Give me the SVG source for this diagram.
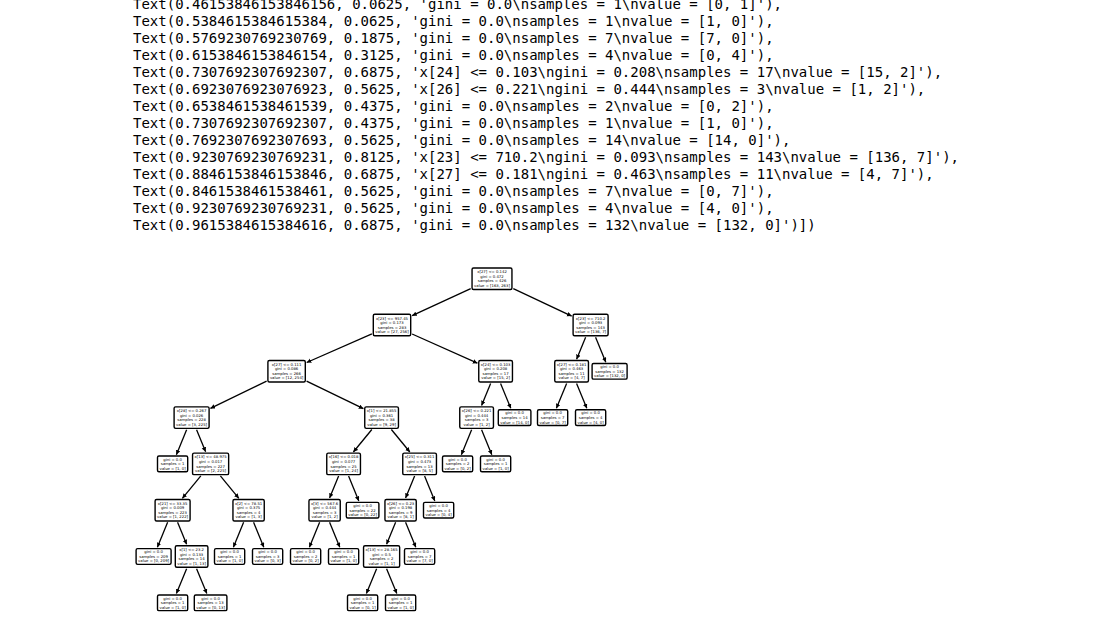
<svg xmlns="http://www.w3.org/2000/svg" width="1119" height="630" viewBox="0 0 1119 630">
<style>
.out{font-family:"DejaVu Sans Mono","Liberation Mono",monospace;font-size:14px;fill:#000}
.n rect{fill:#fff;stroke:#000;stroke-width:1.4}
.n text{font-family:"DejaVu Sans","Liberation Sans",sans-serif;font-size:3.8px;text-anchor:middle;fill:#000}
#edges line{stroke:#000;stroke-width:1.3;marker-end:url(#ah)}
</style>
<defs>
<marker id="ah" markerUnits="userSpaceOnUse" markerWidth="6" markerHeight="6" refX="4.6" refY="2.3" orient="auto"><path d="M0,0 L4.6,2.3 L0,4.6 z" fill="#000"/></marker>
</defs>
<rect width="1119" height="630" fill="#fff"/>
<g id="output">
<text class="out" x="133" y="9">Text(0.46153846153846156, 0.0625, 'gini = 0.0\nsamples = 1\nvalue = [0, 1]'),</text>
<text class="out" x="133" y="26">Text(0.5384615384615384, 0.0625, 'gini = 0.0\nsamples = 1\nvalue = [1, 0]'),</text>
<text class="out" x="133" y="43">Text(0.5769230769230769, 0.1875, 'gini = 0.0\nsamples = 7\nvalue = [7, 0]'),</text>
<text class="out" x="133" y="60">Text(0.6153846153846154, 0.3125, 'gini = 0.0\nsamples = 4\nvalue = [0, 4]'),</text>
<text class="out" x="133" y="77">Text(0.7307692307692307, 0.6875, 'x[24] &lt;= 0.103\ngini = 0.208\nsamples = 17\nvalue = [15, 2]'),</text>
<text class="out" x="133" y="94">Text(0.6923076923076923, 0.5625, 'x[26] &lt;= 0.221\ngini = 0.444\nsamples = 3\nvalue = [1, 2]'),</text>
<text class="out" x="133" y="111">Text(0.6538461538461539, 0.4375, 'gini = 0.0\nsamples = 2\nvalue = [0, 2]'),</text>
<text class="out" x="133" y="128">Text(0.7307692307692307, 0.4375, 'gini = 0.0\nsamples = 1\nvalue = [1, 0]'),</text>
<text class="out" x="133" y="145">Text(0.7692307692307693, 0.5625, 'gini = 0.0\nsamples = 14\nvalue = [14, 0]'),</text>
<text class="out" x="133" y="162">Text(0.9230769230769231, 0.8125, 'x[23] &lt;= 710.2\ngini = 0.093\nsamples = 143\nvalue = [136, 7]'),</text>
<text class="out" x="133" y="179">Text(0.8846153846153846, 0.6875, 'x[27] &lt;= 0.181\ngini = 0.463\nsamples = 11\nvalue = [4, 7]'),</text>
<text class="out" x="133" y="196">Text(0.8461538461538461, 0.5625, 'gini = 0.0\nsamples = 7\nvalue = [0, 7]'),</text>
<text class="out" x="133" y="213">Text(0.9230769230769231, 0.5625, 'gini = 0.0\nsamples = 4\nvalue = [4, 0]'),</text>
<text class="out" x="133" y="230">Text(0.9615384615384616, 0.6875, 'gini = 0.0\nsamples = 132\nvalue = [132, 0]')])</text>
</g>
<g id="edges">
<line x1="470.7" y1="288.6" x2="412.1" y2="315.7"/>
<line x1="513.3" y1="288.7" x2="571.7" y2="316.1"/>
<line x1="371.9" y1="333.8" x2="306.7" y2="362.5"/>
<line x1="412.1" y1="334.0" x2="477.4" y2="363.2"/>
<line x1="266.6" y1="381.1" x2="210.4" y2="408.4"/>
<line x1="306.6" y1="381.1" x2="363.4" y2="408.7"/>
<line x1="186.62" y1="429.74" x2="176.39" y2="454.66"/>
<line x1="196.58" y1="429.74" x2="205.62" y2="451.76"/>
<line x1="200.83" y1="475.81" x2="182.37" y2="498.29"/>
<line x1="220.37" y1="475.81" x2="238.83" y2="498.29"/>
<line x1="167.62" y1="522.34" x2="157.39" y2="547.26"/>
<line x1="177.58" y1="522.34" x2="186.62" y2="544.36"/>
<line x1="186.62" y1="568.64" x2="176.39" y2="593.56"/>
<line x1="196.58" y1="568.64" x2="206.81" y2="593.56"/>
<line x1="243.62" y1="522.34" x2="233.39" y2="547.26"/>
<line x1="253.58" y1="522.34" x2="263.81" y2="547.26"/>
<line x1="371.83" y1="429.51" x2="353.37" y2="451.99"/>
<line x1="391.37" y1="429.51" x2="409.83" y2="451.99"/>
<line x1="338.62" y1="476.04" x2="329.58" y2="498.06"/>
<line x1="348.58" y1="476.04" x2="358.81" y2="500.96"/>
<line x1="319.62" y1="522.34" x2="309.39" y2="547.26"/>
<line x1="329.58" y1="522.34" x2="339.81" y2="547.26"/>
<line x1="414.62" y1="476.04" x2="405.58" y2="498.06"/>
<line x1="424.58" y1="476.04" x2="434.81" y2="500.96"/>
<line x1="395.62" y1="522.34" x2="386.58" y2="544.36"/>
<line x1="405.58" y1="522.34" x2="415.81" y2="547.26"/>
<line x1="376.62" y1="568.64" x2="366.39" y2="593.56"/>
<line x1="386.58" y1="568.64" x2="396.81" y2="593.56"/>
<line x1="490.62" y1="383.44" x2="481.58" y2="405.46"/>
<line x1="500.58" y1="383.44" x2="510.81" y2="408.36"/>
<line x1="471.62" y1="429.74" x2="461.39" y2="454.66"/>
<line x1="481.58" y1="429.74" x2="491.81" y2="454.66"/>
<line x1="585.62" y1="337.14" x2="576.58" y2="359.16"/>
<line x1="595.58" y1="337.14" x2="605.81" y2="362.16"/>
<line x1="566.62" y1="383.44" x2="556.39" y2="408.36"/>
<line x1="576.58" y1="383.44" x2="586.81" y2="408.36"/>
</g>
<g id="n0" class="n"><rect x="472.05" y="267.95" width="39.9" height="21.5" rx="1.5"/><text y="273.21"><tspan x="492">x[27] &lt;= 0.142</tspan><tspan x="492" dy="4.56">gini = 0.472</tspan><tspan x="492" dy="4.56">samples = 426</tspan><tspan x="492" dy="4.56">value = [163, 263]</tspan></text></g>
<g id="n1" class="n"><rect x="373.3" y="314.25" width="37.4" height="21.5" rx="1.5"/><text y="319.51"><tspan x="392">x[23] &lt;= 957.45</tspan><tspan x="392" dy="4.56">gini = 0.173</tspan><tspan x="392" dy="4.56">samples = 283</tspan><tspan x="392" dy="4.56">value = [27, 256]</tspan></text></g>
<g id="n2" class="n"><rect x="267.9" y="360.55" width="37.4" height="21.5" rx="1.5"/><text y="365.81"><tspan x="286.6">x[27] &lt;= 0.111</tspan><tspan x="286.6" dy="4.56">gini = 0.086</tspan><tspan x="286.6" dy="4.56">samples = 266</tspan><tspan x="286.6" dy="4.56">value = [12, 254]</tspan></text></g>
<g id="n3" class="n"><rect x="174.1" y="406.85" width="35" height="21.5" rx="1.5"/><text y="412.11"><tspan x="191.6">x[28] &lt;= 0.267</tspan><tspan x="191.6" dy="4.56">gini = 0.026</tspan><tspan x="191.6" dy="4.56">samples = 228</tspan><tspan x="191.6" dy="4.56">value = [3, 225]</tspan></text></g>
<g id="n4" class="n"><rect x="157.5" y="456.05" width="30.2" height="15.7" rx="1.5"/><text y="460.69"><tspan x="172.6">gini = 0.0</tspan><tspan x="172.6" dy="4.56">samples = 1</tspan><tspan x="172.6" dy="4.56">value = [1, 0]</tspan></text></g>
<g id="n5" class="n"><rect x="192.55" y="453.15" width="36.1" height="21.5" rx="1.5"/><text y="458.41"><tspan x="210.6">x[13] &lt;= 48.975</tspan><tspan x="210.6" dy="4.56">gini = 0.017</tspan><tspan x="210.6" dy="4.56">samples = 227</tspan><tspan x="210.6" dy="4.56">value = [2, 225]</tspan></text></g>
<g id="n6" class="n"><rect x="155.1" y="499.45" width="35" height="21.5" rx="1.5"/><text y="504.71"><tspan x="172.6">x[21] &lt;= 33.35</tspan><tspan x="172.6" dy="4.56">gini = 0.009</tspan><tspan x="172.6" dy="4.56">samples = 223</tspan><tspan x="172.6" dy="4.56">value = [1, 222]</tspan></text></g>
<g id="n7" class="n"><rect x="136.1" y="548.65" width="35" height="15.7" rx="1.5"/><text y="553.29"><tspan x="153.6">gini = 0.0</tspan><tspan x="153.6" dy="4.56">samples = 209</tspan><tspan x="153.6" dy="4.56">value = [0, 209]</tspan></text></g>
<g id="n8" class="n"><rect x="175.3" y="545.75" width="32.6" height="21.5" rx="1.5"/><text y="551.01"><tspan x="191.6">x[1] &lt;= 23.2</tspan><tspan x="191.6" dy="4.56">gini = 0.133</tspan><tspan x="191.6" dy="4.56">samples = 14</tspan><tspan x="191.6" dy="4.56">value = [1, 13]</tspan></text></g>
<g id="n9" class="n"><rect x="157.5" y="594.95" width="30.2" height="15.7" rx="1.5"/><text y="599.59"><tspan x="172.6">gini = 0.0</tspan><tspan x="172.6" dy="4.56">samples = 1</tspan><tspan x="172.6" dy="4.56">value = [1, 0]</tspan></text></g>
<g id="n10" class="n"><rect x="194.3" y="594.95" width="32.6" height="15.7" rx="1.5"/><text y="599.59"><tspan x="210.6">gini = 0.0</tspan><tspan x="210.6" dy="4.56">samples = 13</tspan><tspan x="210.6" dy="4.56">value = [0, 13]</tspan></text></g>
<g id="n11" class="n"><rect x="232.95" y="499.45" width="31.3" height="21.5" rx="1.5"/><text y="504.71"><tspan x="248.6">x[2] &lt;= 78.51</tspan><tspan x="248.6" dy="4.56">gini = 0.375</tspan><tspan x="248.6" dy="4.56">samples = 4</tspan><tspan x="248.6" dy="4.56">value = [1, 3]</tspan></text></g>
<g id="n12" class="n"><rect x="214.5" y="548.65" width="30.2" height="15.7" rx="1.5"/><text y="553.29"><tspan x="229.6">gini = 0.0</tspan><tspan x="229.6" dy="4.56">samples = 1</tspan><tspan x="229.6" dy="4.56">value = [1, 0]</tspan></text></g>
<g id="n13" class="n"><rect x="252.5" y="548.65" width="30.2" height="15.7" rx="1.5"/><text y="553.29"><tspan x="267.6">gini = 0.0</tspan><tspan x="267.6" dy="4.56">samples = 3</tspan><tspan x="267.6" dy="4.56">value = [0, 3]</tspan></text></g>
<g id="n14" class="n"><rect x="364.75" y="406.85" width="33.7" height="21.5" rx="1.5"/><text y="412.11"><tspan x="381.6">x[1] &lt;= 21.855</tspan><tspan x="381.6" dy="4.56">gini = 0.361</tspan><tspan x="381.6" dy="4.56">samples = 38</tspan><tspan x="381.6" dy="4.56">value = [9, 29]</tspan></text></g>
<g id="n15" class="n"><rect x="326.75" y="453.15" width="33.7" height="21.5" rx="1.5"/><text y="458.41"><tspan x="343.6">x[16] &lt;= 0.018</tspan><tspan x="343.6" dy="4.56">gini = 0.077</tspan><tspan x="343.6" dy="4.56">samples = 25</tspan><tspan x="343.6" dy="4.56">value = [1, 24]</tspan></text></g>
<g id="n16" class="n"><rect x="308.95" y="499.45" width="31.3" height="21.5" rx="1.5"/><text y="504.71"><tspan x="324.6">x[3] &lt;= 567.6</tspan><tspan x="324.6" dy="4.56">gini = 0.444</tspan><tspan x="324.6" dy="4.56">samples = 3</tspan><tspan x="324.6" dy="4.56">value = [1, 2]</tspan></text></g>
<g id="n17" class="n"><rect x="290.5" y="548.65" width="30.2" height="15.7" rx="1.5"/><text y="553.29"><tspan x="305.6">gini = 0.0</tspan><tspan x="305.6" dy="4.56">samples = 2</tspan><tspan x="305.6" dy="4.56">value = [0, 2]</tspan></text></g>
<g id="n18" class="n"><rect x="328.5" y="548.65" width="30.2" height="15.7" rx="1.5"/><text y="553.29"><tspan x="343.6">gini = 0.0</tspan><tspan x="343.6" dy="4.56">samples = 1</tspan><tspan x="343.6" dy="4.56">value = [1, 0]</tspan></text></g>
<g id="n19" class="n"><rect x="346.3" y="502.35" width="32.6" height="15.7" rx="1.5"/><text y="506.99"><tspan x="362.6">gini = 0.0</tspan><tspan x="362.6" dy="4.56">samples = 22</tspan><tspan x="362.6" dy="4.56">value = [0, 22]</tspan></text></g>
<g id="n20" class="n"><rect x="402.75" y="453.15" width="33.7" height="21.5" rx="1.5"/><text y="458.41"><tspan x="419.6">x[25] &lt;= 0.311</tspan><tspan x="419.6" dy="4.56">gini = 0.473</tspan><tspan x="419.6" dy="4.56">samples = 13</tspan><tspan x="419.6" dy="4.56">value = [8, 5]</tspan></text></g>
<g id="n21" class="n"><rect x="384.95" y="499.45" width="31.3" height="21.5" rx="1.5"/><text y="504.71"><tspan x="400.6">x[26] &lt;= 0.23</tspan><tspan x="400.6" dy="4.56">gini = 0.198</tspan><tspan x="400.6" dy="4.56">samples = 9</tspan><tspan x="400.6" dy="4.56">value = [8, 1]</tspan></text></g>
<g id="n22" class="n"><rect x="363.55" y="545.75" width="36.1" height="21.5" rx="1.5"/><text y="551.01"><tspan x="381.6">x[13] &lt;= 28.165</tspan><tspan x="381.6" dy="4.56">gini = 0.5</tspan><tspan x="381.6" dy="4.56">samples = 2</tspan><tspan x="381.6" dy="4.56">value = [1, 1]</tspan></text></g>
<g id="n23" class="n"><rect x="347.5" y="594.95" width="30.2" height="15.7" rx="1.5"/><text y="599.59"><tspan x="362.6">gini = 0.0</tspan><tspan x="362.6" dy="4.56">samples = 1</tspan><tspan x="362.6" dy="4.56">value = [0, 1]</tspan></text></g>
<g id="n24" class="n"><rect x="385.5" y="594.95" width="30.2" height="15.7" rx="1.5"/><text y="599.59"><tspan x="400.6">gini = 0.0</tspan><tspan x="400.6" dy="4.56">samples = 1</tspan><tspan x="400.6" dy="4.56">value = [1, 0]</tspan></text></g>
<g id="n25" class="n"><rect x="404.5" y="548.65" width="30.2" height="15.7" rx="1.5"/><text y="553.29"><tspan x="419.6">gini = 0.0</tspan><tspan x="419.6" dy="4.56">samples = 7</tspan><tspan x="419.6" dy="4.56">value = [7, 0]</tspan></text></g>
<g id="n26" class="n"><rect x="423.5" y="502.35" width="30.2" height="15.7" rx="1.5"/><text y="506.99"><tspan x="438.6">gini = 0.0</tspan><tspan x="438.6" dy="4.56">samples = 4</tspan><tspan x="438.6" dy="4.56">value = [0, 4]</tspan></text></g>
<g id="n27" class="n"><rect x="478.75" y="360.55" width="33.7" height="21.5" rx="1.5"/><text y="365.81"><tspan x="495.6">x[24] &lt;= 0.103</tspan><tspan x="495.6" dy="4.56">gini = 0.208</tspan><tspan x="495.6" dy="4.56">samples = 17</tspan><tspan x="495.6" dy="4.56">value = [15, 2]</tspan></text></g>
<g id="n28" class="n"><rect x="459.75" y="406.85" width="33.7" height="21.5" rx="1.5"/><text y="412.11"><tspan x="476.6">x[26] &lt;= 0.221</tspan><tspan x="476.6" dy="4.56">gini = 0.444</tspan><tspan x="476.6" dy="4.56">samples = 3</tspan><tspan x="476.6" dy="4.56">value = [1, 2]</tspan></text></g>
<g id="n29" class="n"><rect x="442.5" y="456.05" width="30.2" height="15.7" rx="1.5"/><text y="460.69"><tspan x="457.6">gini = 0.0</tspan><tspan x="457.6" dy="4.56">samples = 2</tspan><tspan x="457.6" dy="4.56">value = [0, 2]</tspan></text></g>
<g id="n30" class="n"><rect x="480.5" y="456.05" width="30.2" height="15.7" rx="1.5"/><text y="460.69"><tspan x="495.6">gini = 0.0</tspan><tspan x="495.6" dy="4.56">samples = 1</tspan><tspan x="495.6" dy="4.56">value = [1, 0]</tspan></text></g>
<g id="n31" class="n"><rect x="498.3" y="409.75" width="32.6" height="15.7" rx="1.5"/><text y="414.39"><tspan x="514.6">gini = 0.0</tspan><tspan x="514.6" dy="4.56">samples = 14</tspan><tspan x="514.6" dy="4.56">value = [14, 0]</tspan></text></g>
<g id="n32" class="n"><rect x="573.1" y="314.25" width="35" height="21.5" rx="1.5"/><text y="319.51"><tspan x="590.6">x[23] &lt;= 710.2</tspan><tspan x="590.6" dy="4.56">gini = 0.093</tspan><tspan x="590.6" dy="4.56">samples = 143</tspan><tspan x="590.6" dy="4.56">value = [136, 7]</tspan></text></g>
<g id="n33" class="n"><rect x="554.75" y="360.55" width="33.7" height="21.5" rx="1.5"/><text y="365.81"><tspan x="571.6">x[27] &lt;= 0.181</tspan><tspan x="571.6" dy="4.56">gini = 0.463</tspan><tspan x="571.6" dy="4.56">samples = 11</tspan><tspan x="571.6" dy="4.56">value = [4, 7]</tspan></text></g>
<g id="n34" class="n"><rect x="537.5" y="409.75" width="30.2" height="15.7" rx="1.5"/><text y="414.39"><tspan x="552.6">gini = 0.0</tspan><tspan x="552.6" dy="4.56">samples = 7</tspan><tspan x="552.6" dy="4.56">value = [0, 7]</tspan></text></g>
<g id="n35" class="n"><rect x="575.5" y="409.75" width="30.2" height="15.7" rx="1.5"/><text y="414.39"><tspan x="590.6">gini = 0.0</tspan><tspan x="590.6" dy="4.56">samples = 4</tspan><tspan x="590.6" dy="4.56">value = [4, 0]</tspan></text></g>
<g id="n36" class="n"><rect x="592.1" y="363.45" width="35" height="15.7" rx="1.5"/><text y="368.09"><tspan x="609.6">gini = 0.0</tspan><tspan x="609.6" dy="4.56">samples = 132</tspan><tspan x="609.6" dy="4.56">value = [132, 0]</tspan></text></g>
</svg>
